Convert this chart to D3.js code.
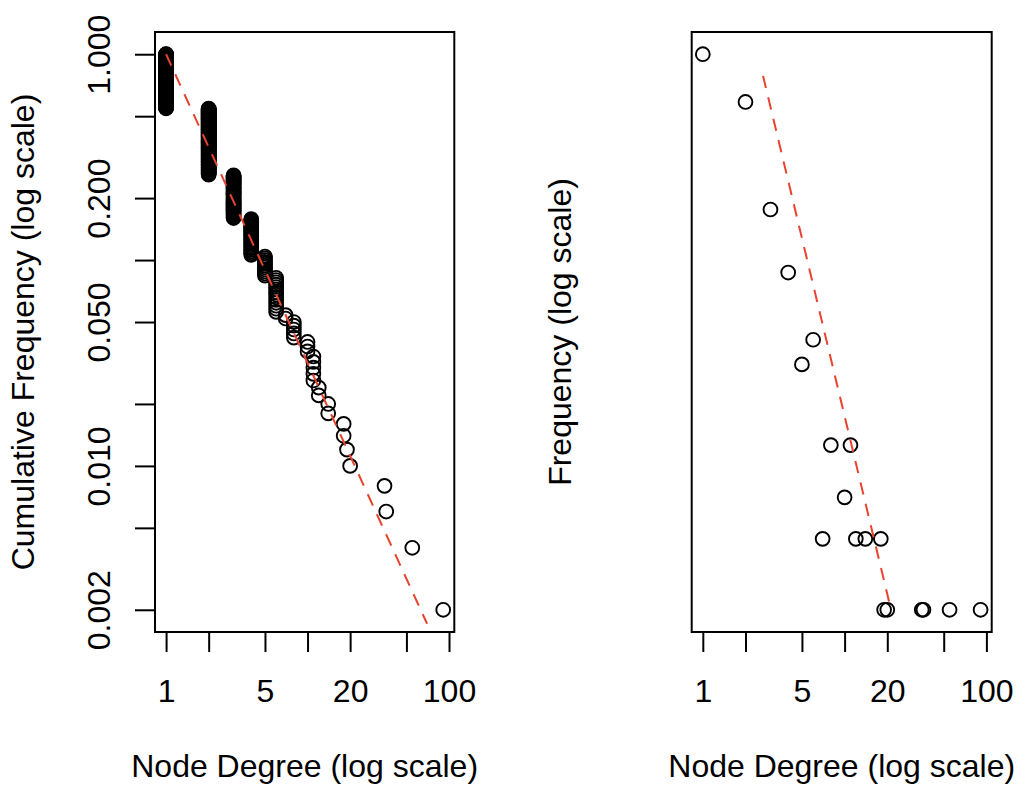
<!DOCTYPE html>
<html><head><meta charset="utf-8">
<script src="https://cdn.jsdelivr.net/npm/d3@7"></script>
<style>body{margin:0;background:#fff} text{font-family:"Liberation Sans",Arial,Helvetica,sans-serif}</style>
</head><body><svg id="c" width="1034" height="804"></svg>
<script>
// ---- data ----
const degrees = [1,2,3,4,5,6,7,8,10,11,12,14,18,19,20,35,36,55,91];
const counts  = [228,143,50,27,11,14,2,5,3,5,2,2,2,1,1,1,1,1,1];
const xTickValues = [1,2,5,10,20,50,100];
const xTickLabels = ["1","","5","","20","","100"];
const yTickValues = [1,0.5,0.2,0.1,0.05,0.02,0.01,0.005,0.002];
const yTickLabels = ["1.000","","0.200","","0.050","","0.010","","0.002"];
const leftFitX = [1,70];
const leftFitY = [1,0.00171];
const rightFitX = [2.66,21];
const rightFitY = [184.5,1.03];
const xTitle = "Node Degree (log scale)";
const leftYTitle = "Cumulative Frequency (log scale)";
const rightYTitle = "Frequency (log scale)";

// ---- layout ----
const W = 1034, H = 804, FS = 32;
const RED = "#E8432F";
const svg = d3.select("#c");
svg.append("rect").attr("width",W).attr("height",H).attr("fill","#fff");

function rLogDomain(min,max){
  const a=Math.log10(min), b=Math.log10(max), p=(b-a)*0.04;
  return [Math.pow(10,a-p), Math.pow(10,b+p)];
}

// cumulative frequency per node (sorted ascending degree)
const N = d3.sum(counts);
const nodes = [];
let rank = 0;
degrees.forEach((d,k)=>{ for(let j=0;j<counts[k];j++){ nodes.push({deg:d, cum:(N-rank)/N}); rank++; } });
const freq = degrees.map((d,k)=>({deg:d, cnt:counts[k]}));

function panel(opt){
  const g = svg.append("g");
  const x = d3.scaleLog().domain(rLogDomain(d3.min(degrees), d3.max(degrees))).range([opt.x0,opt.x1]);
  const y = d3.scaleLog().domain(rLogDomain(opt.ymin, opt.ymax)).range([opt.y1,opt.y0]);

  // x axis
  const xa = g.append("g").attr("transform",`translate(0,${opt.y1})`)
    .call(d3.axisBottom(x).tickValues(xTickValues).tickFormat((d,i)=>xTickLabels[i]).tickSize(20).tickSizeOuter(0));
  xa.select(".domain").remove();
  xa.selectAll(".tick line").attr("stroke","#000").attr("stroke-width",2);
  xa.selectAll(".tick text").attr("y",69.7).attr("dy",0).attr("font-size",FS).attr("fill","#000")
    .attr("font-family",'"Liberation Sans",Arial,sans-serif');

  // y axis
  if(opt.yAxis){
    const ya = g.append("g").attr("transform",`translate(${opt.x0},0)`)
      .call(d3.axisLeft(y).tickValues(yTickValues).tickFormat((d,i)=>yTickLabels[i]).tickSize(20).tickSizeOuter(0));
    ya.select(".domain").remove();
    ya.selectAll(".tick line").attr("stroke","#000").attr("stroke-width",2);
    ya.selectAll(".tick text").attr("x",0).attr("y",-45).attr("dy",0)
      .attr("transform","rotate(-90)").attr("text-anchor","middle")
      .attr("font-size",FS).attr("fill","#000").attr("font-family",'"Liberation Sans",Arial,sans-serif');
  }

  // points
  g.append("g").selectAll("circle").data(opt.data).join("circle")
    .attr("cx",d=>x(d.deg)).attr("cy",d=>y(opt.yv(d))).attr("r",6.9)
    .attr("fill","none").attr("stroke","#000").attr("stroke-width",1.9);

  // fit line
  const line = d3.line().x(d=>x(d[0])).y(d=>y(d[1]));
  g.append("path").datum(opt.fitX.map((v,i)=>[v,opt.fitY[i]])).attr("d",line)
    .attr("fill","none").attr("stroke",RED).attr("stroke-width",2).attr("stroke-dasharray","12.5,9.5");

  // box
  g.append("rect").attr("x",opt.x0).attr("y",opt.y0).attr("width",opt.x1-opt.x0).attr("height",opt.y1-opt.y0)
    .attr("fill","none").attr("stroke","#000").attr("stroke-width",2);

  // titles
  g.append("text").attr("x",(opt.x0+opt.x1)/2).attr("y",776.7).attr("text-anchor","middle")
    .attr("font-size",FS).attr("fill","#000").text(xTitle);
  g.append("text").attr("transform",`translate(${opt.yTitleX},${(opt.y0+opt.y1)/2}) rotate(-90)`)
    .attr("text-anchor","middle").attr("font-size",FS).attr("fill","#000").text(opt.yTitle);
}

panel({x0:155,x1:454.3,y0:32,y1:632, ymin:1/N, ymax:1, data:nodes, yv:d=>d.cum,
       fitX:leftFitX, fitY:leftFitY, yAxis:true, yTitle:leftYTitle, yTitleX:34});
panel({x0:691.7,x1:991.7,y0:32,y1:632, ymin:d3.min(counts), ymax:d3.max(counts), data:freq, yv:d=>d.cnt,
       fitX:rightFitX, fitY:rightFitY, yAxis:false, yTitle:rightYTitle, yTitleX:571});
</script></body></html>
